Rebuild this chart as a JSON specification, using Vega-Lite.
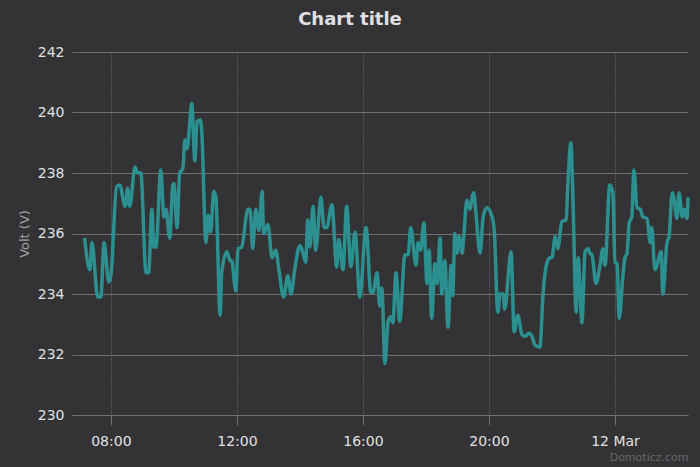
{
  "$schema": "https://vega.github.io/schema/vega-lite/v6.json",
  "width": 616,
  "height": 363,
  "autosize": "none",
  "padding": {"left": 72, "top": 52, "right": 12, "bottom": 52},
  "background": "#333335",
  "title": {
    "text": "Chart title",
    "font": "DejaVu Sans",
    "fontSize": 18,
    "fontWeight": "bold",
    "color": "#E0E0E3",
    "anchor": "middle",
    "dx": -30,
    "offset": 16
  },
  "data": {
    "values": [
      {"t": "2020-03-11T07:10", "v": 235.85},
      {"t": "2020-03-11T07:20", "v": 234.8},
      {"t": "2020-03-11T07:24", "v": 235.7},
      {"t": "2020-03-11T07:35", "v": 233.9},
      {"t": "2020-03-11T07:41", "v": 233.9},
      {"t": "2020-03-11T07:47", "v": 235.7},
      {"t": "2020-03-11T07:56", "v": 234.4},
      {"t": "2020-03-11T08:00", "v": 234.6},
      {"t": "2020-03-11T08:11", "v": 237.55},
      {"t": "2020-03-11T08:17", "v": 237.6},
      {"t": "2020-03-11T08:27", "v": 236.9},
      {"t": "2020-03-11T08:32", "v": 237.5},
      {"t": "2020-03-11T08:36", "v": 236.9},
      {"t": "2020-03-11T08:46", "v": 238.2},
      {"t": "2020-03-11T08:51", "v": 238.0},
      {"t": "2020-03-11T08:57", "v": 238.0},
      {"t": "2020-03-11T09:07", "v": 234.7},
      {"t": "2020-03-11T09:12", "v": 234.7},
      {"t": "2020-03-11T09:18", "v": 236.8},
      {"t": "2020-03-11T09:22", "v": 235.55},
      {"t": "2020-03-11T09:26", "v": 235.55},
      {"t": "2020-03-11T09:35", "v": 238.1},
      {"t": "2020-03-11T09:41", "v": 236.55},
      {"t": "2020-03-11T09:45", "v": 236.8},
      {"t": "2020-03-11T09:52", "v": 235.85},
      {"t": "2020-03-11T09:58", "v": 237.6},
      {"t": "2020-03-11T10:00", "v": 237.65},
      {"t": "2020-03-11T10:06", "v": 236.2},
      {"t": "2020-03-11T10:11", "v": 238.0},
      {"t": "2020-03-11T10:17", "v": 238.15},
      {"t": "2020-03-11T10:21", "v": 239.1},
      {"t": "2020-03-11T10:25", "v": 238.8},
      {"t": "2020-03-11T10:30", "v": 239.6},
      {"t": "2020-03-11T10:34", "v": 240.3},
      {"t": "2020-03-11T10:40", "v": 238.4},
      {"t": "2020-03-11T10:44", "v": 239.7},
      {"t": "2020-03-11T10:50", "v": 239.75},
      {"t": "2020-03-11T10:53", "v": 239.4},
      {"t": "2020-03-11T11:01", "v": 235.7},
      {"t": "2020-03-11T11:05", "v": 236.6},
      {"t": "2020-03-11T11:10", "v": 236.05},
      {"t": "2020-03-11T11:16", "v": 237.4},
      {"t": "2020-03-11T11:20", "v": 237.2},
      {"t": "2020-03-11T11:28", "v": 233.3},
      {"t": "2020-03-11T11:31", "v": 234.7},
      {"t": "2020-03-11T11:41", "v": 235.4},
      {"t": "2020-03-11T11:47", "v": 235.1},
      {"t": "2020-03-11T11:50", "v": 235.1},
      {"t": "2020-03-11T11:58", "v": 234.1},
      {"t": "2020-03-11T12:02", "v": 235.5},
      {"t": "2020-03-11T12:09", "v": 235.55},
      {"t": "2020-03-11T12:21", "v": 236.8},
      {"t": "2020-03-11T12:25", "v": 236.8},
      {"t": "2020-03-11T12:30", "v": 235.5},
      {"t": "2020-03-11T12:36", "v": 236.8},
      {"t": "2020-03-11T12:42", "v": 236.1},
      {"t": "2020-03-11T12:48", "v": 237.4},
      {"t": "2020-03-11T12:51", "v": 236.0},
      {"t": "2020-03-11T12:59", "v": 236.3},
      {"t": "2020-03-11T13:07", "v": 235.2},
      {"t": "2020-03-11T13:14", "v": 235.45},
      {"t": "2020-03-11T13:20", "v": 234.8},
      {"t": "2020-03-11T13:29", "v": 233.9},
      {"t": "2020-03-11T13:37", "v": 234.6},
      {"t": "2020-03-11T13:43", "v": 234.0},
      {"t": "2020-03-11T13:50", "v": 234.8},
      {"t": "2020-03-11T14:00", "v": 235.6},
      {"t": "2020-03-11T14:06", "v": 235.35},
      {"t": "2020-03-11T14:11", "v": 235.05},
      {"t": "2020-03-11T14:15", "v": 236.45},
      {"t": "2020-03-11T14:19", "v": 235.55},
      {"t": "2020-03-11T14:25", "v": 236.9},
      {"t": "2020-03-11T14:30", "v": 235.45},
      {"t": "2020-03-11T14:40", "v": 237.2},
      {"t": "2020-03-11T14:46", "v": 236.2},
      {"t": "2020-03-11T14:51", "v": 236.2},
      {"t": "2020-03-11T15:01", "v": 236.95},
      {"t": "2020-03-11T15:10", "v": 234.9},
      {"t": "2020-03-11T15:14", "v": 235.8},
      {"t": "2020-03-11T15:22", "v": 234.8},
      {"t": "2020-03-11T15:29", "v": 236.9},
      {"t": "2020-03-11T15:37", "v": 234.9},
      {"t": "2020-03-11T15:45", "v": 236.05},
      {"t": "2020-03-11T15:54", "v": 233.9},
      {"t": "2020-03-11T16:06", "v": 236.2},
      {"t": "2020-03-11T16:15", "v": 234.05},
      {"t": "2020-03-11T16:19", "v": 234.05},
      {"t": "2020-03-11T16:27", "v": 234.7},
      {"t": "2020-03-11T16:32", "v": 233.6},
      {"t": "2020-03-11T16:36", "v": 234.2},
      {"t": "2020-03-11T16:42", "v": 231.7},
      {"t": "2020-03-11T16:48", "v": 233.1},
      {"t": "2020-03-11T16:53", "v": 233.25},
      {"t": "2020-03-11T16:57", "v": 233.05},
      {"t": "2020-03-11T17:03", "v": 234.7},
      {"t": "2020-03-11T17:10", "v": 233.1},
      {"t": "2020-03-11T17:20", "v": 235.3},
      {"t": "2020-03-11T17:26", "v": 235.3},
      {"t": "2020-03-11T17:31", "v": 236.2},
      {"t": "2020-03-11T17:41", "v": 234.95},
      {"t": "2020-03-11T17:45", "v": 235.7},
      {"t": "2020-03-11T17:50", "v": 235.45},
      {"t": "2020-03-11T17:56", "v": 236.35},
      {"t": "2020-03-11T18:02", "v": 234.35},
      {"t": "2020-03-11T18:06", "v": 235.45},
      {"t": "2020-03-11T18:11", "v": 233.2},
      {"t": "2020-03-11T18:17", "v": 235.0},
      {"t": "2020-03-11T18:21", "v": 234.35},
      {"t": "2020-03-11T18:27", "v": 235.85},
      {"t": "2020-03-11T18:30", "v": 234.0},
      {"t": "2020-03-11T18:36", "v": 235.1},
      {"t": "2020-03-11T18:42", "v": 232.9},
      {"t": "2020-03-11T18:48", "v": 234.95},
      {"t": "2020-03-11T18:51", "v": 233.95},
      {"t": "2020-03-11T18:55", "v": 236.0},
      {"t": "2020-03-11T18:59", "v": 235.35},
      {"t": "2020-03-11T19:03", "v": 235.9},
      {"t": "2020-03-11T19:09", "v": 235.35},
      {"t": "2020-03-11T19:12", "v": 235.9},
      {"t": "2020-03-11T19:18", "v": 237.1},
      {"t": "2020-03-11T19:24", "v": 236.8},
      {"t": "2020-03-11T19:28", "v": 237.2},
      {"t": "2020-03-11T19:31", "v": 237.35},
      {"t": "2020-03-11T19:35", "v": 236.7},
      {"t": "2020-03-11T19:43", "v": 235.35},
      {"t": "2020-03-11T19:49", "v": 236.55},
      {"t": "2020-03-11T19:56", "v": 236.85},
      {"t": "2020-03-11T20:06", "v": 236.55},
      {"t": "2020-03-11T20:10", "v": 236.1},
      {"t": "2020-03-11T20:17", "v": 233.4},
      {"t": "2020-03-11T20:21", "v": 234.0},
      {"t": "2020-03-11T20:27", "v": 234.0},
      {"t": "2020-03-11T20:30", "v": 233.5},
      {"t": "2020-03-11T20:42", "v": 235.4},
      {"t": "2020-03-11T20:48", "v": 232.75},
      {"t": "2020-03-11T20:55", "v": 233.3},
      {"t": "2020-03-11T21:03", "v": 232.65},
      {"t": "2020-03-11T21:09", "v": 232.6},
      {"t": "2020-03-11T21:16", "v": 232.7},
      {"t": "2020-03-11T21:22", "v": 232.6},
      {"t": "2020-03-11T21:28", "v": 232.3},
      {"t": "2020-03-11T21:37", "v": 232.25},
      {"t": "2020-03-11T21:43", "v": 234.0},
      {"t": "2020-03-11T21:50", "v": 235.0},
      {"t": "2020-03-11T21:56", "v": 235.2},
      {"t": "2020-03-11T22:00", "v": 235.2},
      {"t": "2020-03-11T22:06", "v": 235.9},
      {"t": "2020-03-11T22:11", "v": 235.5},
      {"t": "2020-03-11T22:19", "v": 236.4},
      {"t": "2020-03-11T22:27", "v": 236.45},
      {"t": "2020-03-11T22:30", "v": 237.55},
      {"t": "2020-03-11T22:36", "v": 239.0},
      {"t": "2020-03-11T22:40", "v": 237.1},
      {"t": "2020-03-11T22:46", "v": 233.4},
      {"t": "2020-03-11T22:50", "v": 235.2},
      {"t": "2020-03-11T22:53", "v": 234.4},
      {"t": "2020-03-11T22:57", "v": 233.05},
      {"t": "2020-03-11T23:03", "v": 235.4},
      {"t": "2020-03-11T23:09", "v": 235.5},
      {"t": "2020-03-11T23:12", "v": 235.35},
      {"t": "2020-03-11T23:16", "v": 235.3},
      {"t": "2020-03-11T23:24", "v": 234.35},
      {"t": "2020-03-11T23:31", "v": 234.9},
      {"t": "2020-03-11T23:37", "v": 235.5},
      {"t": "2020-03-11T23:41", "v": 234.95},
      {"t": "2020-03-11T23:50", "v": 237.6},
      {"t": "2020-03-11T23:56", "v": 237.35},
      {"t": "2020-03-12T00:00", "v": 235.05},
      {"t": "2020-03-12T00:04", "v": 235.0},
      {"t": "2020-03-12T00:08", "v": 233.2},
      {"t": "2020-03-12T00:15", "v": 234.6},
      {"t": "2020-03-12T00:19", "v": 235.2},
      {"t": "2020-03-12T00:23", "v": 235.35},
      {"t": "2020-03-12T00:27", "v": 236.35},
      {"t": "2020-03-12T00:32", "v": 236.55},
      {"t": "2020-03-12T00:36", "v": 238.1},
      {"t": "2020-03-12T00:42", "v": 236.85},
      {"t": "2020-03-12T00:48", "v": 236.8},
      {"t": "2020-03-12T00:53", "v": 236.55},
      {"t": "2020-03-12T01:01", "v": 236.5},
      {"t": "2020-03-12T01:07", "v": 235.7},
      {"t": "2020-03-12T01:10", "v": 236.2},
      {"t": "2020-03-12T01:16", "v": 234.8},
      {"t": "2020-03-12T01:28", "v": 235.4},
      {"t": "2020-03-12T01:31", "v": 234.0},
      {"t": "2020-03-12T01:39", "v": 235.7},
      {"t": "2020-03-12T01:43", "v": 235.9},
      {"t": "2020-03-12T01:49", "v": 237.35},
      {"t": "2020-03-12T01:52", "v": 237.2},
      {"t": "2020-03-12T01:58", "v": 236.5},
      {"t": "2020-03-12T02:02", "v": 237.35},
      {"t": "2020-03-12T02:08", "v": 236.55},
      {"t": "2020-03-12T02:11", "v": 236.8},
      {"t": "2020-03-12T02:17", "v": 236.5},
      {"t": "2020-03-12T02:19", "v": 237.2}
    ]
  },
  "mark": {"type": "line", "color": "#2b908f", "strokeWidth": 3.5, "interpolate": "monotone"},
  "encoding": {
    "x": {
      "field": "t",
      "type": "temporal",
      "scale": {
        "domain": [
          {"year": 2020, "month": 3, "date": 11, "hours": 6, "minutes": 46},
          {"year": 2020, "month": 3, "date": 12, "hours": 2, "minutes": 19}
        ],
        "nice": false
      },
      "axis": {
        "title": "Domoticz.com",
        "titleAnchor": "end",
        "titleColor": "#666668",
        "titleFont": "DejaVu Sans",
        "titleFontSize": 11,
        "titleFontWeight": "normal",
        "titlePadding": 3,
        "values": [
          {"year": 2020, "month": 3, "date": 11, "hours": 8},
          {"year": 2020, "month": 3, "date": 11, "hours": 12},
          {"year": 2020, "month": 3, "date": 11, "hours": 16},
          {"year": 2020, "month": 3, "date": 11, "hours": 20},
          {"year": 2020, "month": 3, "date": 12, "hours": 0}
        ],
        "labelExpr": "hours(datum.value) == 0 ? timeFormat(datum.value, '%d %b') : timeFormat(datum.value, '%H:%M')",
        "labelFont": "DejaVu Sans",
        "labelFontSize": 14,
        "labelColor": "#E0E0E3",
        "labelPadding": 9,
        "tickSize": 10,
        "tickColor": "#707073",
        "domainColor": "#707073",
        "grid": true,
        "gridColor": "#7a7a7c",
        "gridDash": [1, 2],
        "gridWidth": 1
      }
    },
    "y": {
      "field": "v",
      "type": "quantitative",
      "scale": {"domain": [230, 242], "nice": false, "zero": false},
      "axis": {
        "title": "Volt (V)",
        "titleColor": "#A0A0A3",
        "titleFont": "DejaVu Sans",
        "titleFontSize": 13,
        "titleFontWeight": "normal",
        "titlePadding": 6,
        "values": [230, 232, 234, 236, 238, 240, 242],
        "labelFont": "DejaVu Sans",
        "labelFontSize": 14,
        "labelColor": "#E0E0E3",
        "labelPadding": 8,
        "ticks": false,
        "domain": false,
        "grid": true,
        "gridColor": "#707073",
        "gridWidth": 1
      }
    }
  },
  "config": {
    "view": {"stroke": null}
  }
}
